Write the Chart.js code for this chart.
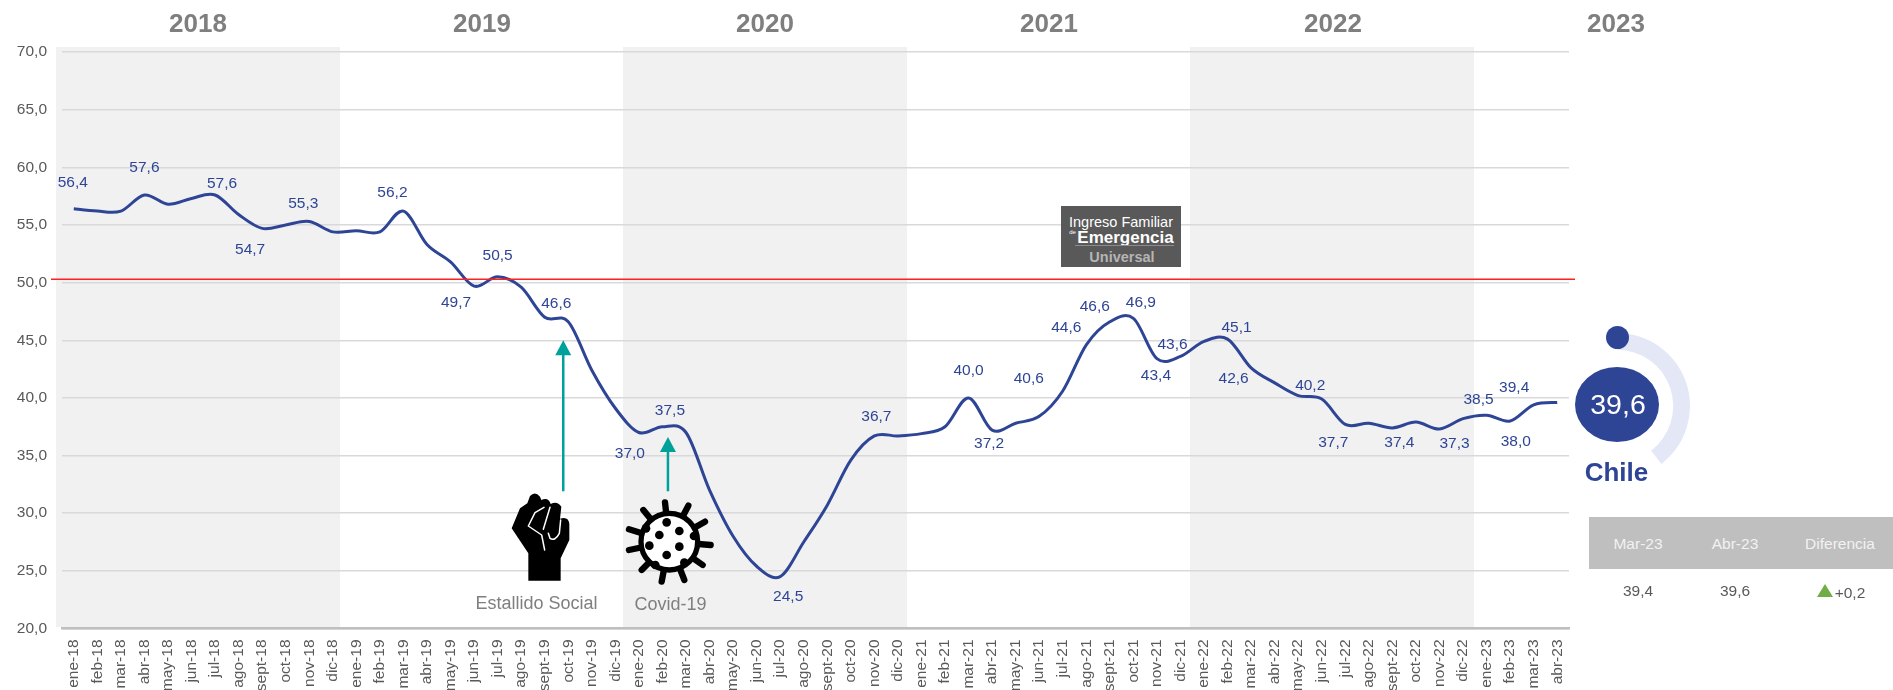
<!DOCTYPE html>
<html lang="es">
<head>
<meta charset="utf-8">
<title>Chile</title>
<script src="https://cdn.jsdelivr.net/npm/chart.js@4/dist/chart.umd.min.js"></script>
<style>
html,body{margin:0;padding:0;background:#fff;width:1893px;height:690px;overflow:hidden;font-family:"Liberation Sans",Arial,sans-serif}
#stage{position:relative;width:1893px;height:690px;overflow:hidden}
#main{position:absolute;left:0;top:0}
#gauge{position:absolute;left:1544px;top:333px}
.t{position:absolute;white-space:nowrap;transform:translate(-50%,-50%);line-height:1}
.yr{font-size:26px;font-weight:bold;color:#7f7f7f;top:23px}
.cap{font-size:18px;color:#7f7f7f}
.hd{font-size:15.5px;color:#f2f2f2;top:544px}
.cell{font-size:15.5px;color:#595959;top:591px}
#disc{position:absolute;left:1575px;top:366.5px;width:84px;height:75px;border-radius:50%;background:#2e4596}
#dot{position:absolute;left:1606px;top:326px;width:23px;height:23px;border-radius:50%;background:#2e4596}
#thead{position:absolute;left:1589px;top:517px;width:304px;height:52px;background:#bfbfbf}
#tri{position:absolute;left:1817px;top:584px;width:0;height:0;border-left:8px solid transparent;border-right:8px solid transparent;border-bottom:13px solid #70ad47}
#badge{position:absolute;left:1061px;top:206px;width:120px;height:61px;background:#595959}
#badge .t{color:#fff}
</style>
</head>
<body>
<div id="stage">
<canvas id="main" width="1893" height="690"></canvas>
<canvas id="gauge" width="146" height="146"></canvas>
<div id="dot"></div>
<div id="disc"></div>
<div class="t" style="left:1618px;top:404px;font-size:28.5px;color:#fff">39,6</div>
<div class="t" style="left:1616.5px;top:472px;font-size:26px;font-weight:bold;color:#2e4596">Chile</div>
<div id="years"></div>
<div class="t cap" style="left:536.5px;top:603px">Estallido Social</div>
<div class="t cap" style="left:670.5px;top:604px">Covid-19</div>
<div id="badge">
  <div class="t" style="left:60px;top:15.5px;font-size:14.5px">Ingreso Familiar</div>
  <div class="t" style="left:11.5px;top:26px;font-size:6px">de</div>
  <div class="t" style="left:64.5px;top:31px;font-size:17px;font-weight:bold">Emergencia</div>
  <div style="position:absolute;left:14px;top:39px;width:99px;height:1px;background:#8c8c8c"></div>
  <div class="t" style="left:61px;top:50.5px;font-size:14.5px;font-weight:bold;color:#b5b5b5">Universal</div>
</div>
<div id="thead"></div>
<div class="t hd" style="left:1638px">Mar-23</div>
<div class="t hd" style="left:1735px">Abr-23</div>
<div class="t hd" style="left:1840px">Diferencia</div>
<div class="t cell" style="left:1638px">39,4</div>
<div class="t cell" style="left:1735px">39,6</div>
<div id="tri"></div>
<div class="t cell" style="left:1850px;top:593px">+0,2</div>
</div>
<script>
const months = ["ene","feb","mar","abr","may","jun","jul","ago","sept","oct","nov","dic"];
const categories = [];
for (const yy of [18,19,20,21,22,23]) for (const m of months) {
  if (yy === 23 && categories.filter(c => c.endsWith("-23")).length >= 4) break;
  categories.push(m + "-" + yy);
}
const values = [
  56.4,56.2,56.2,57.6,56.8,57.3,57.6,55.9,54.7,55.0,55.3,54.4,
  54.5,54.4,56.2,53.3,51.8,49.7,50.5,49.6,47.0,46.6,42.4,39.1,
  37.0,37.5,37.0,32.0,28.0,25.4,24.5,27.5,30.7,34.6,36.7,36.7,
  36.9,37.5,40.0,37.2,37.8,38.4,40.6,44.6,46.6,46.9,43.4,43.6,
  44.9,45.1,42.6,41.3,40.2,39.9,37.7,37.8,37.4,37.9,37.3,38.2,
  38.5,38.0,39.4,39.6
];
const yearLabels = ["2018","2019","2020","2021","2022","2023"];
const yTicks = [20,25,30,35,40,45,50,55,60,65,70];
const threshold = 50.3;
const gaugeValue = 39.6;
const eventArrows = [{cat:"oct-19", tip:45.0, tail:31.9},{cat:"feb-20", tip:36.6, tail:31.9}];

// index of the labelled point : label offset from that point, in pixels
const labelOffsets = {
  0:[-1,-26],3:[0,-27],6:[7,-11],8:[-12,21],10:[-6,-18],14:[-11,-18],17:[-18,17],18:[0,-21],
  21:[-12,-18],24:[-9,21],25:[7.5,-16],30:[8,20],34:[2,-19],38:[0,-27],39:[-3,14],42:[-34,-12],
  43:[-20,-17],44:[-15,-15],45:[7.5,-16],46:[-1,17],47:[-8,-12],49:[9,-11],50:[-17.5,11],52:[12,-10],
  54:[-12,18],56:[7,15],58:[15,15],60:[-8,-15],61:[5.6,21],62:[-19.5,-17]
};

const yearCentres = [198,482,765,1049,1333,1616];
const yrBox = document.getElementById("years");
yearLabels.forEach((y,i)=>{
  const d=document.createElement("div");
  d.className="t yr"; d.style.left=yearCentres[i]+"px"; d.textContent=y; yrBox.appendChild(d);
});

const fmt = v => v.toFixed(1).replace(".",",");
const FONT = '"Liberation Sans", Arial, sans-serif';
const LINE = "#2e4596";

function drawFist(c){
  c.save(); c.translate(440,470); c.scale(1/3,1/3);
  c.fillStyle="#000";
  c.beginPath();
  c.moveTo(265,332);c.lineTo(265,250);c.lineTo(215,175);c.lineTo(240,115);c.lineTo(262,100);c.lineTo(270,78);
  c.quadraticCurveTo(285,62,300,80);c.lineTo(304,90);
  c.quadraticCurveTo(325,80,332,102);
  c.quadraticCurveTo(352,92,364,110);c.lineTo(360,146);
  c.quadraticCurveTo(386,138,388,162);c.lineTo(388,210);c.lineTo(362,265);c.lineTo(362,332);c.closePath();c.fill();
  c.strokeStyle="#fff";c.lineWidth=4.5;c.lineCap="round";c.lineJoin="round";
  c.beginPath();c.moveTo(312,112);c.lineTo(285,128);c.lineTo(265,168);c.lineTo(305,195);c.lineTo(314,240);c.stroke();
  c.beginPath();c.moveTo(330,112);c.lineTo(310,178);c.stroke();
  c.beginPath();c.moveTo(362,150);c.lineTo(358,190);c.quadraticCurveTo(345,215,330,205);c.lineTo(325,190);c.stroke();
  c.restore();
}
function drawVirus(c){
  c.save(); c.translate(440,470); c.scale(1/3,1/3);
  const cx=688,cy=215;
  c.strokeStyle="#000";c.lineCap="round";c.lineWidth=19;
  [[675,97],[745,107],[795,155],[812,225],[788,285],[733,330],[665,335],[605,300],[567,240],[567,178],[610,120]].forEach(p=>{
    c.beginPath();c.moveTo(cx,cy);c.lineTo(p[0],p[1]);c.stroke();
  });
  c.fillStyle="#fff";c.lineWidth=16;
  c.beginPath();c.arc(cx,cy,85,0,Math.PI*2);c.fill();c.stroke();
  c.fillStyle="#000";
  [[680,157],[718,183],[658,195],[628,227],[718,230],[680,255],[762,198],[618,175],[646,285],[733,278]].forEach(p=>{
    c.beginPath();c.arc(p[0],p[1],13,0,Math.PI*2);c.fill();
  });
  c.restore();
}

// Spreadsheet-style smoothing: same tangent rule at every point of the line
const smoothing = {
  id:"smoothing",
  beforeDatasetsDraw(ch){
    const meta=ch.getDatasetMeta(0),pts=meta.data,n=pts.length;
    meta.dataset.updateControlPoints(ch.chartArea);
    for(let i=0;i<n;i++){
      const p=pts[i],a=pts[Math.max(i-1,0)],b=pts[Math.min(i+1,n-1)];
      const tx=(b.x-a.x)/6,ty=(b.y-a.y)/6;
      p.cp1x=p.x-tx;p.cp1y=p.y-ty;p.cp2x=p.x+tx;p.cp2y=p.y+ty;
    }
  }
};

const decor = {
  id:"decor",
  beforeDraw(ch){
    const c=ch.ctx;
    c.save();
    c.fillStyle="#f1f1f1";
    [[56,340],[623,907],[1190,1474]].forEach(b=>c.fillRect(b[0],47,b[1]-b[0],580));
    c.restore();
  },
  afterDatasetsDraw(ch){
    const c=ch.ctx,x=ch.scales.x,y=ch.scales.y;
    c.save();
    c.strokeStyle="#ff2020";c.lineWidth=1.5;
    const ry=y.getPixelForValue(threshold);
    c.beginPath();c.moveTo(51,ry);c.lineTo(1575,ry);c.stroke();
    c.strokeStyle="#00a19a";c.fillStyle="#00a19a";c.lineWidth=2.5;
    eventArrows.forEach(a=>{
      const ax=x.getPixelForValue(a.cat)-(a.cat==="oct-19"?5:-5.5);
      const t=y.getPixelForValue(a.tip),b=y.getPixelForValue(a.tail);
      c.beginPath();c.moveTo(ax,b);c.lineTo(ax,t+12);c.stroke();
      c.beginPath();c.moveTo(ax,t);c.lineTo(ax+8,t+15);c.lineTo(ax-8,t+15);c.closePath();c.fill();
    });
    drawFist(c);drawVirus(c);
    c.font="15.5px "+FONT;c.fillStyle="#2e4596";c.textAlign="center";c.textBaseline="middle";
    Object.keys(labelOffsets).forEach(k=>{
      const i=+k,o=labelOffsets[k];
      c.fillText(fmt(values[i]),x.getPixelForValue(categories[i])+o[0],y.getPixelForValue(values[i])+o[1]);
    });
    c.restore();
  }
};

new Chart(document.getElementById("main"),{
  type:"line",
  data:{labels:categories,datasets:[{data:values,borderColor:LINE,borderWidth:3,pointRadius:0,tension:0.4,fill:false,clip:false}]},
  plugins:[decor,smoothing],
  options:{
    responsive:false,animation:false,
    layout:{padding:{left:0,top:52,right:324,bottom:0}},
    plugins:{legend:{display:false},tooltip:{enabled:false},title:{display:false}},
    scales:{
      x:{
        type:"category",offset:true,
        grid:{display:false,drawTicks:false},
        border:{display:true,color:"#bfbfbf",width:2.5},
        ticks:{autoSkip:false,minRotation:90,maxRotation:90,padding:11,color:"#595959",font:{family:FONT,size:15.5}},
        afterFit(s){s.height=61.5;}
      },
      y:{
        min:20,max:70,
        grid:{color:"#d9d9d9",lineWidth:1.5,drawTicks:false},
        border:{display:false},
        ticks:{
          padding:15,color:"#595959",font:{family:FONT,size:15.5},
          stepSize:5,callback:v=>yTicks.includes(v)?fmt(v):""
        },
        afterFit(s){s.width=62;}
      }
    }
  }
});

new Chart(document.getElementById("gauge"),{
  type:"doughnut",
  data:{labels:["Chile","Resto"],datasets:[{data:[gaugeValue,100-gaugeValue],backgroundColor:["#e4e7f6","rgba(0,0,0,0)"],borderWidth:0}]},
  options:{responsive:false,animation:false,cutout:"77%",rotation:0,layout:{padding:0},plugins:{legend:{display:false},tooltip:{enabled:false}}}
});
</script>
</body>
</html>
